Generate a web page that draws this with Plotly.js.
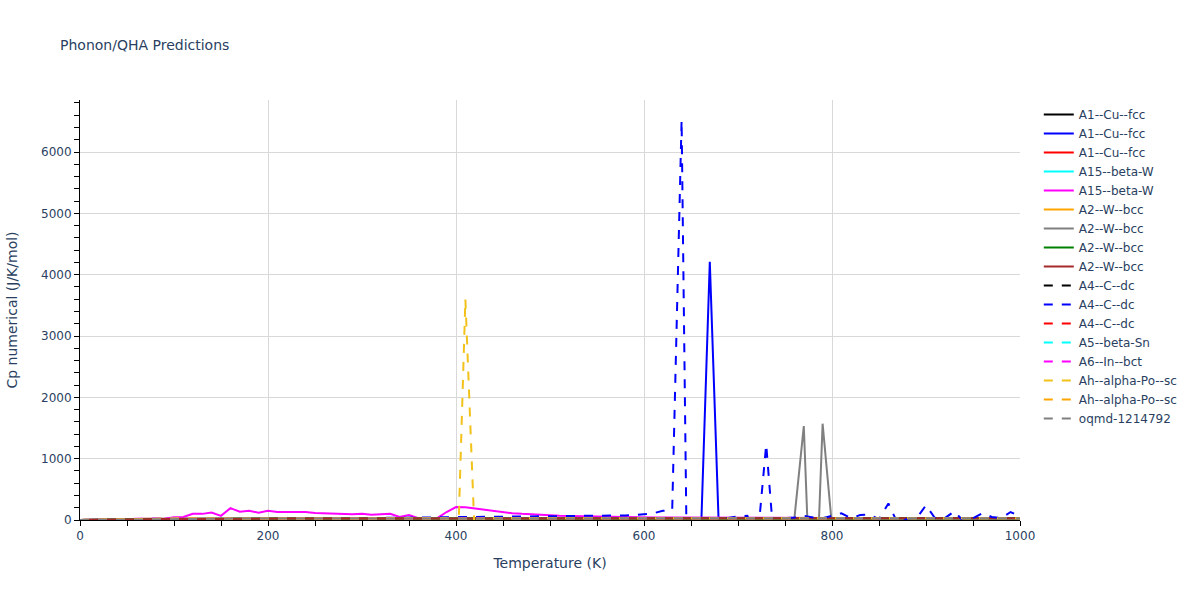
<!DOCTYPE html>
<html>
<head>
<meta charset="utf-8">
<script src="https://cdn.plot.ly/plotly-3.0.1.min.js"></script>
<style>html,body{margin:0;padding:0;background:#fff;}#chart{width:1200px;height:600px;}</style>
</head>
<body>
<div id="chart"></div>
<script>
// Temperature grid (K)
const temperature = [
  0,10,20,30,40,50,60,70,80,90,
  100,110,120,130,140,150,160,170,180,190,
  200,210,220,230,240,250,260,270,280,290,
  300,310,320,330,340,350,360,370,380,390,
  400,410,420,430,440,450,460,470,480,490,
  500,510,520,530,540,550,560,570,580,590,
  600,610,620,630,640,650,660,670,680,690,
  700,710,720,730,740,750,760,770,780,790,
  800,810,820,830,840,850,860,870,880,890,
  900,910,920,930,940,950,960,970,980,990,
  1000
];

// Cp numerical (J/K/mol), one array per series
const cuFccA = [
  0,0.9,4.6,9.2,13.1,15.9,17.8,19.1,20.1,20.8,
  21.4,21.9,22.3,22.6,22.9,23.1,23.3,23.4,23.6,23.7,
  23.8,23.9,24.0,24.1,24.2,24.2,24.3,24.4,24.4,24.5,
  24.5,24.6,24.6,24.7,24.7,24.8,24.8,24.9,24.9,25.0,
  25.0,25.1,25.1,25.2,25.2,25.3,25.3,25.4,25.4,25.5,
  25.5,25.6,25.6,25.7,25.7,25.8,25.8,25.9,25.9,26.0,
  26.0,26.1,26.1,26.2,26.2,26.3,26.3,26.4,26.4,26.5,
  26.6,26.7,26.7,26.8,26.8,26.9,27.0,27.0,27.1,27.1,
  27.2,27.3,27.3,27.4,27.5,27.5,27.6,27.7,27.7,27.8,
  27.9,27.9,28.0,28.1,28.2,28.2,28.3,28.4,28.5,28.5,
  28.6
];
const cuFccB = [
  0,0.9,4.5,9.1,13.0,15.8,17.7,19.0,20.0,20.7,
  21.3,21.8,22.2,22.5,22.8,23.0,23.2,23.4,23.5,23.6,
  23.7,23.8,23.9,24.0,24.1,24.2,24.2,24.3,24.4,24.4,
  24.5,24.5,24.6,24.6,24.7,24.8,24.8,24.9,24.9,25.0,
  25.0,25.1,25.1,25.2,25.3,25.3,25.4,25.4,25.5,25.6,
  25.6,25.7,25.8,25.8,25.9,26.0,26.1,26.1,26.2,26.3,
  26.4,26.5,26.6,26.8,27.0,28.0,-500,4210,-300,27.5,
  27.3,27.3,27.4,27.5,27.5,27.6,27.7,27.7,27.8,27.9,
  28.0,28.0,28.1,28.2,28.3,28.3,28.4,28.5,28.6,28.7,
  28.8,28.8,28.9,29.0,29.1,29.2,29.3,29.4,29.5,29.6,
  29.7
];
const cuFccC = [
  0,1.0,4.8,9.4,13.3,16.0,17.9,19.2,20.2,20.9,
  21.5,22.0,22.4,22.7,23.0,23.2,23.4,23.5,23.7,23.8,
  23.9,24.0,24.1,24.2,24.3,24.3,24.4,24.5,24.5,24.6,
  24.6,24.7,24.7,24.8,24.9,24.9,25.0,25.0,25.1,25.1,
  25.2,25.2,25.3,25.3,25.4,25.5,25.5,25.6,25.6,25.7,
  25.8,25.8,25.9,26.0,26.0,26.1,26.2,26.2,26.3,26.4,
  26.4,26.5,26.6,26.7,26.7,26.8,26.9,27.0,27.0,27.1,
  27.2,27.3,27.4,27.4,27.5,27.6,27.7,27.8,27.9,27.9,
  28.0,28.1,28.2,28.3,28.4,28.5,28.6,28.7,28.8,28.9,
  29.0,29.1,29.2,29.3,29.4,29.5,29.6,29.7,29.8,29.9,
  30.0
];
const betaWA = [
  0,0.3,2.2,5.9,9.8,13.2,15.8,17.8,19.3,20.4,
  21.2,21.9,22.4,22.8,23.2,23.5,23.7,23.9,24.1,24.2,
  24.4,24.5,24.6,24.7,24.8,24.8,24.9,25.0,25.0,25.1,
  25.1,25.2,25.2,25.3,25.3,25.4,25.4,25.4,25.5,25.5,
  25.6,25.6,25.7,25.7,25.7,25.8,25.8,25.9,25.9,26.0,
  26.0,26.1,26.1,26.2,26.2,26.3,26.3,26.4,26.4,26.5,
  26.5,26.6,26.6,26.7,26.7,26.8,26.8,26.9,26.9,27.0,
  27.0,27.1,27.1,27.2,27.2,27.3,27.3,27.4,27.4,27.5,
  27.5,27.6,27.6,27.7,27.7,27.8,27.8,27.9,27.9,28.0,
  28.0,28.1,28.1,28.2,28.2,28.3,28.3,28.4,28.4,28.5,
  28.5
];
const betaWB = [
  0,0.4,2.5,6.2,10.1,13.5,16.1,18.1,19.6,21.0,
  45,50,100,100,122,68,193,134,150,118,
  150,130,130,130,130,115,110,106,100,92,
  100,86,95,100,50,80,30,28,30,130,
  210,206,186,165,145,126,111,100,90,82,
  75,70,66,62,58,55,51,48,45,43,
  41,40,39,38,38,37,37,36,36,36,
  35,35,35,34,34,34,34,33,33,33,
  33,33,33,32,32,32,32,32,32,32,
  32,32,32,32,32,32,32,32,32,32,
  32
];
const wBccA = [
  0,0.1,0.8,2.5,5.0,7.8,10.4,12.7,14.6,16.1,
  17.4,18.4,19.3,20.0,20.6,21.1,21.5,21.9,22.2,22.5,
  22.7,22.9,23.1,23.3,23.4,23.6,23.7,23.8,23.9,24.0,
  24.1,24.2,24.3,24.3,24.4,24.5,24.5,24.6,24.6,24.7,
  24.7,24.8,24.8,24.9,24.9,25.0,25.0,25.1,25.1,25.2,
  25.2,25.3,25.3,25.4,25.4,25.5,25.5,25.6,25.6,25.7,
  25.7,25.8,25.8,25.9,25.9,26.0,26.0,26.1,26.1,26.2,
  26.2,26.3,26.3,26.4,26.4,26.5,26.5,26.6,26.6,26.7,
  26.7,26.8,26.8,26.9,26.9,27.0,27.0,27.1,27.1,27.2,
  27.2,27.3,27.3,27.4,27.4,27.5,27.5,27.6,27.6,27.7,
  27.7
];
const wBccB = [
  0,0.1,0.9,2.6,5.1,7.9,10.5,12.8,14.7,16.2,
  17.5,18.5,19.4,20.1,20.7,21.2,21.6,22.0,22.3,22.6,
  22.8,23.0,23.2,23.4,23.5,23.7,23.8,23.9,24.0,24.1,
  24.2,24.3,24.4,24.4,24.5,24.6,24.6,24.7,24.7,24.8,
  24.9,24.9,25.0,25.0,25.1,25.2,25.2,25.3,25.3,25.4,
  25.5,25.5,25.6,25.7,25.7,25.8,25.9,25.9,26.0,26.1,
  26.2,26.2,26.3,26.4,26.5,26.6,26.7,26.8,26.9,27.0,
  27.1,27.2,27.4,27.5,27.7,27.9,28.2,1530,-2500,1570,
  -100,28.4,28.2,28.1,28.1,28.2,28.2,28.3,28.4,28.4,
  28.5,28.6,28.6,28.7,28.8,28.8,28.9,29.0,29.0,29.1,
  29.2
];
const wBccC = [
  0,0.1,0.7,2.4,4.9,7.7,10.3,12.6,14.5,16.0,
  17.3,18.3,19.2,19.9,20.5,21.0,21.4,21.8,22.1,22.4,
  22.6,22.8,23.0,23.2,23.3,23.5,23.6,23.7,23.8,23.9,
  24.0,24.1,24.2,24.2,24.3,24.4,24.4,24.5,24.5,24.6,
  24.6,24.7,24.7,24.8,24.8,24.9,24.9,25.0,25.0,25.1,
  25.1,25.2,25.2,25.3,25.3,25.4,25.4,25.5,25.5,25.6,
  25.6,25.7,25.7,25.8,25.8,25.9,25.9,26.0,26.0,26.1,
  26.1,26.2,26.2,26.3,26.3,26.4,26.4,26.5,26.5,26.6,
  26.6,26.7,26.7,26.8,26.8,26.9,26.9,27.0,27.0,27.1,
  27.1,27.2,27.2,27.3,27.3,27.4,27.4,27.5,27.5,27.6,
  27.6
];
const wBccD = [
  0,0.1,0.9,2.7,5.2,8.0,10.6,12.9,14.8,16.3,
  17.6,18.6,19.5,20.2,20.8,21.3,21.7,22.1,22.4,22.7,
  22.9,23.1,23.3,23.5,23.6,23.8,23.9,24.0,24.1,24.2,
  24.3,24.4,24.5,24.5,24.6,24.7,24.7,24.8,24.8,24.9,
  25.0,25.0,25.1,25.1,25.2,25.3,25.3,25.4,25.4,25.5,
  25.6,25.6,25.7,25.8,25.8,25.9,26.0,26.0,26.1,26.2,
  26.2,26.3,26.4,26.5,26.5,26.6,26.7,26.8,26.8,26.9,
  27.0,27.1,27.1,27.2,27.3,27.4,27.4,27.5,27.6,27.7,
  27.8,27.8,27.9,28.0,28.1,28.2,28.2,28.3,28.4,28.5,
  28.6,28.7,28.7,28.8,28.9,29.0,29.1,29.2,29.2,29.3,
  29.4
];
const cDcA = [
  0,0,0.1,0.2,0.4,0.7,1.0,1.5,2.0,2.7,
  3.5,4.4,5.4,6.5,7.7,9.0,10.3,11.7,13.0,14.4,
  15.7,16.8,17.8,18.7,19.5,20.2,20.8,21.3,21.8,22.2,
  22.6,22.9,23.2,23.5,23.7,23.9,24.1,24.3,24.5,24.6,
  24.8,24.9,25.0,25.1,25.2,25.3,25.4,25.5,25.6,25.7,
  25.8,25.8,25.9,26.0,26.0,26.1,26.2,26.2,26.3,26.3,
  26.4,26.4,26.5,26.5,26.6,26.6,26.7,26.7,26.8,26.8,
  26.9,26.9,27.0,27.0,27.1,27.1,27.2,27.2,27.3,27.3,
  27.4,27.4,27.5,27.5,27.6,27.6,27.7,27.7,27.8,27.8,
  27.9,27.9,28.0,28.0,28.1,28.1,28.2,28.2,28.3,28.3,
  28.4
];
const cDcB = [
  0,0,0.1,0.2,0.4,0.7,1.0,1.5,2.0,2.7,
  3.5,4.4,5.4,6.5,7.7,9.0,10.3,11.7,13.0,14.5,
  16,17,18,19,20,21,22,23,24,25,
  26,27,28,29,30,31,32,33,35,38,
  40,42,44,45,46,48,50,51,52,54,
  55,56,58,60,62,64,66,70,74,80,
  90,110,150,160,6520,-6400,-2000,-500,10,40,
  60,70,-450,1230,-700,30,40,70,40,30,
  70,110,30,80,90,10,270,-60,20,30,
  240,20,30,140,-20,30,110,50,30,130,
  60
];
const cDcC = [
  0,0,0.1,0.3,0.5,0.8,1.1,1.6,2.1,2.8,
  3.6,4.5,5.5,6.6,7.8,9.1,10.4,11.8,13.1,14.5,
  15.8,16.9,17.9,18.8,19.6,20.3,20.9,21.4,21.9,22.3,
  22.7,23.0,23.3,23.6,23.8,24.0,24.2,24.4,24.6,24.7,
  24.9,25.0,25.1,25.2,25.3,25.4,25.5,25.6,25.7,25.8,
  25.9,25.9,26.0,26.1,26.1,26.2,26.3,26.3,26.4,26.4,
  26.5,26.5,26.6,26.6,26.7,26.7,26.8,26.8,26.9,26.9,
  27.0,27.0,27.1,27.1,27.2,27.2,27.3,27.3,27.4,27.4,
  27.5,27.5,27.6,27.6,27.7,27.7,27.8,27.8,27.9,27.9,
  28.0,28.0,28.1,28.1,28.2,28.2,28.3,28.3,28.4,28.4,
  28.5
];
const betaSn = [
  0,3.1,10.2,15.6,18.8,20.6,21.7,22.4,22.9,23.3,
  23.6,23.8,24.0,24.2,24.3,24.4,24.5,24.6,24.7,24.8,
  24.9,25.0,25.1,25.1,25.2,25.3,25.3,25.4,25.5,25.5,
  25.6,25.7,25.7,25.8,25.9,25.9,26.0,26.1,26.1,26.2,
  26.3,26.3,26.4,26.5,26.5,26.6,26.7,26.7,26.8,26.9,
  26.9,27.0,27.1,27.1,27.2,27.3,27.3,27.4,27.5,27.5,
  27.6,27.7,27.7,27.8,27.9,27.9,28.0,28.1,28.1,28.2,
  28.3,28.3,28.4,28.5,28.5,28.6,28.7,28.7,28.8,28.9,
  28.9,29.0,29.1,29.1,29.2,29.3,29.3,29.4,29.5,29.5,
  29.6,29.7,29.7,29.8,29.9,29.9,30.0,30.1,30.1,30.2,
  30.3
];
const inBct = [
  0,3.8,12.1,17.4,20.2,21.7,22.6,23.2,23.6,23.9,
  24.1,24.3,24.5,24.6,24.7,24.8,24.9,25.0,25.1,25.2,
  25.3,25.4,25.5,25.5,25.6,25.7,25.8,25.8,25.9,26.0,
  26.1,26.2,26.2,26.3,26.4,26.5,26.6,26.6,26.7,26.8,
  26.9,27.0,27.0,27.1,27.2,27.3,27.4,27.4,27.5,27.6,
  27.7,27.8,27.8,27.9,28.0,28.1,28.2,28.2,28.3,28.4,
  28.5,28.6,28.6,28.7,28.8,28.9,29.0,29.0,29.1,29.2,
  29.3,29.4,29.4,29.5,29.6,29.7,29.8,29.8,29.9,30.0,
  30.1,30.2,30.2,30.3,30.4,30.5,30.6,30.6,30.7,30.8,
  30.9,31.0,31.0,31.1,31.2,31.3,31.4,31.4,31.5,31.6,
  31.7
];
const poScA = [
  0,2.4,8.9,14.7,18.3,20.4,21.6,22.4,22.9,23.3,
  23.6,23.9,24.1,24.2,24.4,24.5,24.6,24.7,24.8,24.9,
  25.0,25.1,25.1,25.2,25.3,25.3,25.4,25.5,25.5,25.6,
  25.7,25.7,25.8,25.9,25.9,26.0,26.1,26.3,26.6,27.5,
  -1500,3600,-300,27.0,26.8,26.8,26.9,26.9,27.0,27.0,
  27.1,27.1,27.2,27.2,27.3,27.3,27.4,27.4,27.5,27.5,
  27.6,27.6,27.7,27.7,27.8,27.8,27.9,27.9,28.0,28.0,
  28.1,28.1,28.2,28.2,28.3,28.3,28.4,28.4,28.5,28.5,
  28.6,28.6,28.7,28.7,28.8,28.8,28.9,28.9,29.0,29.0,
  29.1,29.1,29.2,29.2,29.3,29.3,29.4,29.4,29.5,29.5,
  29.6
];
const poScB = [
  0,2.3,8.7,14.5,18.1,20.2,21.5,22.3,22.8,23.2,
  23.5,23.8,24.0,24.1,24.3,24.4,24.5,24.6,24.7,24.8,
  24.9,25.0,25.0,25.1,25.2,25.2,25.3,25.4,25.4,25.5,
  25.6,25.6,25.7,25.8,25.8,25.9,26.0,26.0,26.1,26.2,
  26.2,26.3,26.4,26.4,26.5,26.6,26.6,26.7,26.8,26.8,
  26.9,27.0,27.0,27.1,27.2,27.2,27.3,27.4,27.4,27.5,
  27.6,27.6,27.7,27.8,27.8,27.9,28.0,28.0,28.1,28.2,
  28.2,28.3,28.4,28.4,28.5,28.6,28.6,28.7,28.8,28.8,
  28.9,29.0,29.0,29.1,29.2,29.2,29.3,29.4,29.4,29.5,
  29.6,29.6,29.7,29.8,29.8,29.9,30.0,30.0,30.1,30.2,
  30.2
];
const oqmd = [
  0,1.5,6.4,11.5,15.2,17.7,19.4,20.5,21.3,21.9,
  22.4,22.8,23.1,23.4,23.6,23.8,23.9,24.1,24.2,24.3,
  24.4,24.5,24.6,24.7,24.8,24.8,24.9,25.0,25.0,25.1,
  25.2,25.2,25.3,25.3,25.4,25.5,25.5,25.6,25.6,25.7,
  25.8,25.8,25.9,25.9,26.0,26.1,26.1,26.2,26.2,26.3,
  26.4,26.4,26.5,26.5,26.6,26.7,26.7,26.8,26.8,26.9,
  27.0,27.0,27.1,27.1,27.2,27.3,27.3,27.4,27.4,27.5,
  27.6,27.6,27.7,27.7,27.8,27.9,27.9,28.0,28.0,28.1,
  28.2,28.2,28.3,28.3,28.4,28.5,28.5,28.6,28.6,28.7,
  28.8,28.8,28.9,28.9,29.0,29.1,29.1,29.2,29.2,29.3,
  29.4
];

const seriesNames = [
  'A1--Cu--fcc','A1--Cu--fcc','A1--Cu--fcc',
  'A15--beta-W','A15--beta-W',
  'A2--W--bcc','A2--W--bcc','A2--W--bcc','A2--W--bcc',
  'A4--C--dc','A4--C--dc','A4--C--dc',
  'A5--beta-Sn','A6--In--bct',
  'Ah--alpha-Po--sc','Ah--alpha-Po--sc','oqmd-1214792'
];
const seriesValues = [
  cuFccA, cuFccB, cuFccC, betaWA, betaWB,
  wBccA, wBccB, wBccC, wBccD,
  cDcA, cDcB, cDcC, betaSn, inBct, poScA, poScB, oqmd
];
const seriesColors = [
  'black','blue','red','cyan','magenta',
  'orange','gray','green','brown',
  'black','blue','red','cyan','magenta',
  '#f2c21b','orange','gray'
];
const seriesDash = [
  'solid','solid','solid','solid','solid',
  'solid','solid','solid','solid',
  'dash','dash','dash','dash','dash','dash','dash','dash'
];

const traces = seriesNames.map((name, i) => ({
  type: 'scatter',
  mode: 'lines',
  name: name,
  x: temperature,
  y: seriesValues[i],
  line: {color: seriesColors[i], dash: seriesDash[i], width: 2}
}));

const textColor = '#2a3f5f';
const layout = {
  width: 1200,
  height: 600,
  paper_bgcolor: 'white',
  plot_bgcolor: 'white',
  font: {family: 'Verdana, "DejaVu Sans", sans-serif', color: textColor, size: 12},
  title: {text: 'Phonon/QHA Predictions', x: 0.05, xanchor: 'left', font: {size: 14}},
  margin: {l: 80, r: 180, t: 100, b: 80},
  showlegend: true,
  legend: {font: {color: textColor}, x: 1.02, xanchor: 'left', y: 1, yanchor: 'top'},
  xaxis: {
    title: {text: 'Temperature (K)', font: {size: 14}, standoff: 15},
    range: [0, 1000],
    dtick: 200,
    showgrid: true,
    gridcolor: '#d9d9d9',
    zeroline: false,
    showline: true,
    linecolor: 'black',
    linewidth: 1,
    ticks: 'outside',
    tickcolor: 'black',
    ticklen: 5,
    minor: {dtick: 50, ticks: 'outside', ticklen: 5, tickcolor: 'black', showgrid: false}
  },
  yaxis: {
    title: {text: 'Cp numerical (J/K/mol)', font: {size: 14}, standoff: 20},
    range: [0, 6848],
    dtick: 1000,
    showgrid: true,
    gridcolor: '#d9d9d9',
    zeroline: false,
    showline: true,
    linecolor: 'black',
    linewidth: 1,
    ticks: 'outside',
    tickcolor: 'black',
    ticklen: 5,
    minor: {dtick: 200, ticks: 'outside', ticklen: 5, tickcolor: 'black', showgrid: false}
  }
};

Plotly.newPlot('chart', traces, layout, {displayModeBar: false});
</script>
</body>
</html>
